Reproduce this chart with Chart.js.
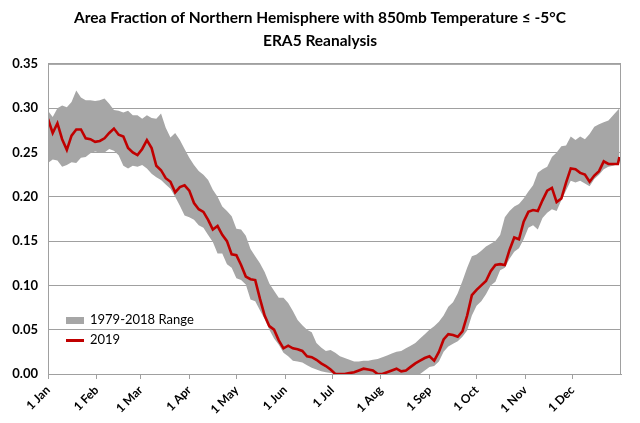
<!DOCTYPE html>
<html>
<head>
<meta charset="utf-8">
<script src="https://cdn.jsdelivr.net/npm/chart.js@4.4.1/dist/chart.umd.min.js"></script>
<style>
    html, body { margin: 0; padding: 0; background: #fff; }
    #wrap { position: relative; width: 640px; height: 423px; }
    .legend { position: absolute; left: 66px; font: 13px Lato, sans-serif; color: #000; }
    .legend span { display: inline-block; vertical-align: middle; margin-right: 6px; }
</style>
</head>
<body>
<div id="wrap">
    <canvas id="chart" width="640" height="423"></canvas>
    <div class="legend" style="top:311px"><span style="width:18px;height:7px;background:#a6a6a6"></span>1979-2018 Range</div>
    <div class="legend" style="top:331px"><span style="width:18px;height:3px;background:#c00000"></span>2019</div>
</div>
<script>
// day of year (0 = 1 Jan)
const days = [
    0, 3, 6, 9, 12, 15, 18, 21, 24, 27,
    30, 33, 36, 39, 42, 45, 48, 51, 54, 57,
    60, 63, 66, 69, 72, 75, 78, 81, 84, 87,
    90, 93, 96, 99, 102, 105, 108, 111, 114, 117,
    120, 123, 126, 129, 132, 135, 138, 141, 144, 147,
    150, 153, 156, 159, 162, 165, 168, 171, 174, 177,
    180, 183, 186, 189, 192, 195, 198, 201, 204, 207,
    210, 213, 216, 219, 222, 225, 228, 231, 234, 237,
    240, 243, 246, 249, 252, 255, 258, 261, 264, 267,
    270, 273, 276, 279, 282, 285, 288, 291, 294, 297,
    300, 303, 306, 309, 312, 315, 318, 321, 324, 327,
    330, 333, 336, 339, 342, 345, 348, 351, 354, 357,
    360, 363, 364
];

const values2019 = [
    0.288, 0.272, 0.283, 0.265, 0.253, 0.269, 0.276, 0.276, 0.266, 0.265,
    0.262, 0.263, 0.266, 0.272, 0.277, 0.270, 0.268, 0.255, 0.250, 0.247,
    0.254, 0.264, 0.255, 0.235, 0.230, 0.221, 0.217, 0.205, 0.211, 0.213,
    0.207, 0.193, 0.186, 0.183, 0.174, 0.163, 0.167, 0.157, 0.150, 0.135,
    0.134, 0.123, 0.110, 0.107, 0.106, 0.085, 0.066, 0.054, 0.050, 0.038,
    0.029, 0.032, 0.029, 0.028, 0.026, 0.020, 0.019, 0.016, 0.012, 0.009,
    0.005, 0.000, 0.000, 0.000, 0.001, 0.002, 0.004, 0.006, 0.005, 0.004,
    0.000, 0.000, 0.002, 0.004, 0.006, 0.003, 0.004, 0.008, 0.012, 0.015,
    0.018, 0.020, 0.015, 0.025, 0.039, 0.045, 0.044, 0.042, 0.048, 0.066,
    0.089, 0.095, 0.100, 0.105, 0.116, 0.123, 0.124, 0.123, 0.140, 0.154,
    0.152, 0.172, 0.183, 0.185, 0.184, 0.196, 0.207, 0.210, 0.194, 0.198,
    0.216, 0.232, 0.231, 0.227, 0.225, 0.217, 0.224, 0.229, 0.240, 0.237,
    0.237, 0.237, 0.245
];

// 1979-2018 range
const rangeMax = [
    0.297, 0.290, 0.300, 0.303, 0.301, 0.307, 0.320, 0.312, 0.309, 0.309,
    0.308, 0.309, 0.311, 0.305, 0.298, 0.297, 0.295, 0.297, 0.292, 0.292,
    0.288, 0.292, 0.289, 0.288, 0.294, 0.278, 0.267, 0.272, 0.264, 0.254,
    0.244, 0.236, 0.229, 0.225, 0.219, 0.208, 0.200, 0.189, 0.184, 0.178,
    0.164, 0.163, 0.156, 0.141, 0.133, 0.125, 0.115, 0.102, 0.094, 0.086,
    0.086, 0.080, 0.071, 0.061, 0.055, 0.050, 0.047, 0.035, 0.030, 0.026,
    0.027, 0.024, 0.020, 0.018, 0.016, 0.014, 0.014, 0.015, 0.015, 0.016,
    0.017, 0.019, 0.021, 0.023, 0.025, 0.026, 0.029, 0.032, 0.035, 0.040,
    0.045, 0.050, 0.054, 0.059, 0.066, 0.076, 0.081, 0.091, 0.105, 0.120,
    0.133, 0.135, 0.139, 0.144, 0.147, 0.150, 0.157, 0.177, 0.184, 0.189,
    0.192, 0.198, 0.206, 0.213, 0.227, 0.231, 0.234, 0.245, 0.250, 0.257,
    0.258, 0.268, 0.264, 0.268, 0.265, 0.271, 0.279, 0.282, 0.284, 0.286,
    0.292, 0.298, 0.300
];

const rangeMin = [
    0.238, 0.242, 0.241, 0.234, 0.236, 0.239, 0.238, 0.244, 0.245, 0.249,
    0.251, 0.250, 0.250, 0.254, 0.252, 0.247, 0.235, 0.232, 0.235, 0.234,
    0.236, 0.232, 0.226, 0.222, 0.219, 0.214, 0.209, 0.200, 0.190, 0.179,
    0.177, 0.174, 0.168, 0.165, 0.157, 0.149, 0.136, 0.136, 0.124, 0.120,
    0.108, 0.106, 0.101, 0.084, 0.082, 0.072, 0.062, 0.050, 0.040, 0.033,
    0.024, 0.020, 0.015, 0.014, 0.013, 0.010, 0.007, 0.005, 0.003, 0.002,
    0.001, 0.000, 0.000, 0.000, 0.000, 0.000, 0.000, 0.000, 0.000, 0.000,
    0.000, 0.000, 0.000, 0.000, 0.000, 0.000, 0.000, 0.000, 0.000, 0.000,
    0.004, 0.008, 0.009, 0.014, 0.025, 0.031, 0.034, 0.037, 0.042, 0.049,
    0.066, 0.077, 0.082, 0.090, 0.100, 0.104, 0.117, 0.120, 0.130, 0.138,
    0.142, 0.152, 0.165, 0.168, 0.163, 0.176, 0.182, 0.186, 0.184, 0.196,
    0.207, 0.218, 0.216, 0.218, 0.215, 0.212, 0.220, 0.225, 0.231, 0.234,
    0.235, 0.237, 0.238
];

const monthStarts = [0, 31, 59, 90, 120, 151, 181, 212, 243, 273, 304, 334];
const monthLabels = ["1 Jan", "1 Feb", "1 Mar", "1 Apr", "1 May", "1 Jun",
                     "1 Jul", "1 Aug", "1 Sep", "1 Oct", "1 Nov", "1 Dec"];

const yTicks = [0, 0.05, 0.10, 0.15, 0.20, 0.25, 0.30, 0.35];

const GRID = "#a0a0a0";

function pts(vals) {
    return days.map((d, i) => ({ x: d, y: vals[i] }));
}

// box round the plot (right side has no axis of its own)
const frame = {
    id: "frame",
    afterDraw(chart) {
        const a = chart.chartArea;
        const ctx = chart.ctx;
        ctx.save();
        ctx.strokeStyle = GRID;
        ctx.lineWidth = 1;
        ctx.strokeRect(a.left + 0.5, a.top + 0.5, a.right - a.left - 1, a.bottom - a.top);
        ctx.restore();
    }
};

new Chart(document.getElementById("chart"), {
    type: "line",
    data: {
        datasets: [
            {
                label: "2019",
                data: pts(values2019),
                borderColor: "#c00000",
                borderWidth: 2.6,
                pointRadius: 0,
                fill: false
            },
            {
                label: "min",
                data: pts(rangeMin),
                borderWidth: 0,
                pointRadius: 0,
                fill: false
            },
            {
                label: "1979-2018 Range",
                data: pts(rangeMax),
                borderWidth: 0,
                pointRadius: 0,
                backgroundColor: "#a6a6a6",
                fill: "-1"
            }
        ]
    },
    options: {
        responsive: false,
        animation: false,
        layout: { padding: 0 },
        plugins: {
            legend: { display: false },
            tooltip: { enabled: false },
            title: {
                display: true,
                text: ["Area Fraction of Northern Hemisphere with 850mb Temperature \u2264 -5\u00B0C",
                       "ERA5 Reanalysis"],
                color: "#000",
                font: { family: "Lato", size: 15.5, weight: "bold", lineHeight: 1.48 },
                padding: { top: 7, bottom: 11 }
            }
        },
        scales: {
            x: {
                type: "linear",
                min: 0,
                max: 365,
                afterBuildTicks: s => { s.ticks = monthStarts.map(v => ({ value: v })); },
                afterFit: s => { s.height = 49; },
                ticks: {
                    autoSkip: false,
                    minRotation: 45,
                    maxRotation: 45,
                    padding: 4,
                    color: "#000",
                    font: { family: "Lato", size: 12, weight: "bold" },
                    callback: v => monthLabels[monthStarts.indexOf(v)]
                },
                grid: { drawOnChartArea: false, drawTicks: true, tickLength: 5, color: GRID },
                border: { color: GRID }
            },
            y: {
                min: 0,
                max: 0.35,
                afterBuildTicks: s => { s.ticks = yTicks.map(v => ({ value: v })); },
                afterFit: s => { s.width = 48; },
                ticks: {
                    padding: 10,
                    color: "#000",
                    font: { family: "Lato", size: 13, weight: "bold" },
                    callback: v => v.toFixed(2)
                },
                grid: { color: GRID, drawTicks: false },
                border: { color: GRID }
            },
            // empty right-hand strip so the title stays centred on the page
            yRight: {
                position: "right",
                min: 0,
                max: 0.35,
                afterFit: s => { s.width = 19; },
                ticks: { display: false },
                grid: { display: false },
                border: { display: false }
            }
        }
    },
    plugins: [frame]
});
</script>
</body>
</html>
